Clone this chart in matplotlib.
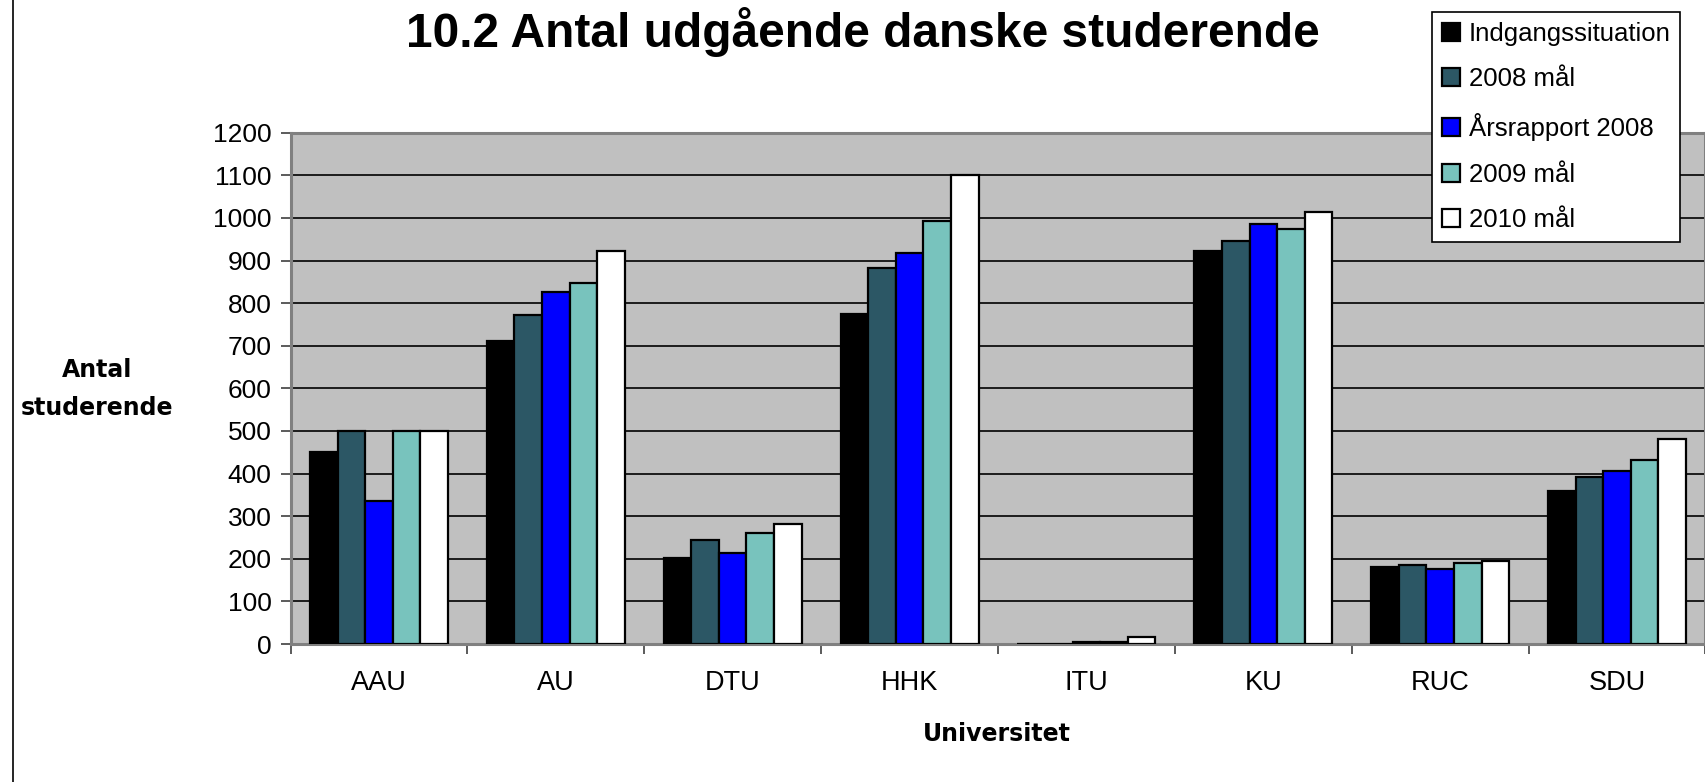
import matplotlib
matplotlib.use("Agg")
import matplotlib.pyplot as plt
import numpy as np
from matplotlib.patches import Patch
from matplotlib.lines import Line2D

categories = ["AAU", "AU", "DTU", "HHK", "ITU", "KU", "RUC", "SDU"]
series_names = ["Indgangssituation", "2008 mål", "Årsrapport 2008", "2009 mål", "2010 mål"]
indgang = [450, 710, 202, 775, 0, 922, 180, 360]
maal_2008 = [500, 773, 243, 883, 0, 946, 185, 393]
aarsrapport_2008 = [335, 825, 213, 918, 5, 986, 175, 405]
maal_2009 = [500, 848, 260, 992, 5, 974, 190, 433]
maal_2010 = [500, 922, 282, 1100, 17, 1015, 195, 480]
series_values = [indgang, maal_2008, aarsrapport_2008, maal_2009, maal_2010]
colors = ["#000000", "#2C5765", "#0000FF", "#78C3BD", "#FFFFFF"]
yticks = list(range(0, 1201, 100))

plt.rcParams['font.family'] = ['Liberation Sans', 'DejaVu Sans']

fig = plt.figure(figsize=(17.06, 7.82), dpi=100)
ax = fig.add_axes([290.5/1706, 1-644/782, (1705.5-290.5)/1706, (644-132.7)/782])
ax.set_facecolor("#C0C0C0")

x = np.arange(len(categories))
n = len(series_values)
group = 0.78
w = group / n
for i, (vals, c, name) in enumerate(zip(series_values, colors, series_names)):
    ax.bar(x - group/2 + w*(i+0.5), vals, width=w, color=c, edgecolor="black",
           linewidth=1.6, label=name, zorder=3)

ax.set_xlim(-0.5, len(categories)-0.5)
ax.set_ylim(0, 1200)
ax.set_yticks(yticks)
ax.set_yticklabels([str(t) for t in yticks], fontsize=19)
ax.yaxis.grid(True, color="black", linewidth=1.2, zorder=1)
ax.set_axisbelow(True)

ax.set_xticks(np.arange(len(categories)+1) - 0.5)
ax.set_xticklabels([])
ax.set_xticks(x, minor=True)
ax.set_xticklabels(categories, minor=True, fontsize=19.5)
ax.tick_params(axis='x', which='minor', length=0, pad=19)
ax.tick_params(axis='x', which='major', length=7, width=1.2, color="#404040", direction='out')
ax.tick_params(axis='y', length=7, width=1.2, color="#404040", direction='out', pad=6.5)

for side in ["left", "bottom", "top", "right"]:
    ax.spines[side].set_color("#808080")
    ax.spines[side].set_linewidth(2.2)

fig.text(863/1706, 1-32/782, "10.2 Antal udgående danske studerende", ha="center", va="center",
         fontsize=34.5, fontweight="bold")
fig.text(997/1706, 1-734/782, "Universitet", ha="center", va="center",
         fontsize=17, fontweight="bold", family=["DejaVu Sans"])
fig.text(97/1706, 1-389/782, "Antal\nstuderende", ha="center", va="center",
         fontsize=17, fontweight="bold", family=["DejaVu Sans"], linespacing=1.75)

handles = [Patch(facecolor=c, edgecolor="black", linewidth=1.6) for c in colors]
leg = fig.legend(handles, series_names, loc="upper left", bbox_to_anchor=(1432/1706, 1-12/782),
                 fontsize=18.5, frameon=True, fancybox=False, edgecolor="black", framealpha=1,
                 handlelength=0.7, handleheight=0.7, handletextpad=0.35, labelspacing=0.84,
                 borderpad=0.38, borderaxespad=0)
leg.get_frame().set_linewidth(1.2)

fig.add_artist(Line2D([13/1706, 13/1706], [0, 1], transform=fig.transFigure, color="black", linewidth=1.2))

fig.savefig("out.png", dpi=100)
